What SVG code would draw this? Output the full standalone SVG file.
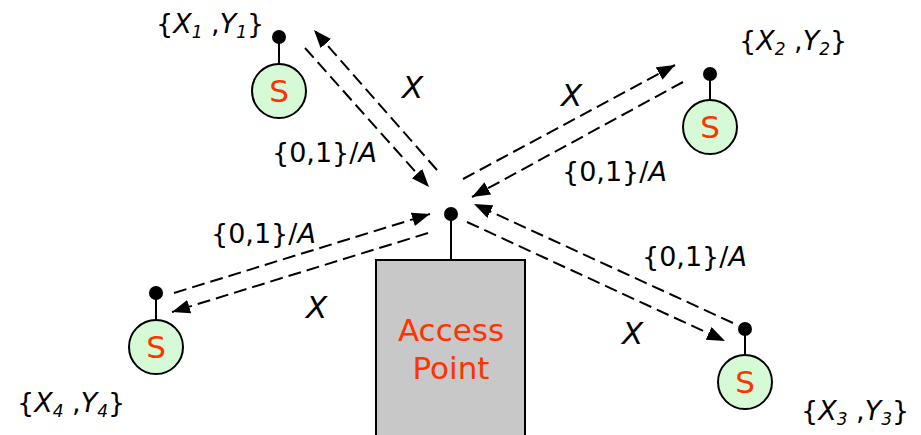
<svg xmlns="http://www.w3.org/2000/svg" width="921" height="435" viewBox="0 0 921 435">
  <style>
    .lnk { stroke: #000; stroke-width: 2; stroke-dasharray: 13 6; fill: none; marker-end: url(#tip); }
    .stem { stroke: #000; stroke-width: 2; }
    .dot { fill: #000; }
    .sta { fill: #d6fad6; stroke: #000; stroke-width: 2; }
    .s { font-family: "DejaVu Sans", Verdana, sans-serif; font-size: 31px; fill: #ff3300; text-anchor: middle; }
    .ap { font-family: "DejaVu Sans", Verdana, sans-serif; font-size: 31px; fill: #ff3300; text-anchor: middle; }
    .lbl { font-family: "DejaVu Sans", Verdana, sans-serif; font-size: 27px; fill: #000; }
    .it { font-style: italic; }
    .x { font-family: "DejaVu Sans", Verdana, sans-serif; font-size: 31px; font-style: italic; fill: #000; }
    .sub { font-size: 17px; font-style: italic; }
  </style>
  <defs>
    <marker id="tip" markerUnits="userSpaceOnUse" markerWidth="20" markerHeight="16" refX="18" refY="7" orient="auto">
      <path d="M0,0 L18,7 L0,14 z" fill="#000"/>
    </marker>
  </defs>

  <!-- access point -->
  <g id="ap">
    <line class="stem" x1="451" y1="214" x2="451" y2="260"/>
    <circle class="dot" cx="451" cy="214" r="7"/>
    <rect x="376" y="260" width="149" height="185" fill="#c8c8c8" stroke="#000" stroke-width="2"/>
    <text class="ap" x="451" y="341">Access</text>
    <text class="ap" x="451" y="379">Point</text>
  </g>

  <!-- stations -->
  <g id="s1">
    <line class="stem" x1="279" y1="37" x2="279" y2="64"/>
    <circle class="dot" cx="279" cy="37" r="7"/>
    <circle class="sta" cx="279" cy="91" r="27"/>
    <text class="s" x="279" y="102">S</text>
    <text class="lbl" x="156" y="33">{<tspan class="it">X</tspan><tspan class="sub" dy="5">1</tspan><tspan dy="-5"> ,</tspan><tspan class="it">Y</tspan><tspan class="sub" dy="5">1</tspan><tspan dy="-5">}</tspan></text>
  </g>
  <g id="s2">
    <line class="stem" x1="710" y1="74" x2="710" y2="100"/>
    <circle class="dot" cx="710" cy="74" r="7"/>
    <circle class="sta" cx="710" cy="127" r="27"/>
    <text class="s" x="710" y="138">S</text>
    <text class="lbl" x="739" y="50">{<tspan class="it">X</tspan><tspan class="sub" dy="5">2</tspan><tspan dy="-5"> ,</tspan><tspan class="it">Y</tspan><tspan class="sub" dy="5">2</tspan><tspan dy="-5">}</tspan></text>
  </g>
  <g id="s3">
    <line class="stem" x1="745" y1="329" x2="745" y2="355"/>
    <circle class="dot" cx="745" cy="329" r="7"/>
    <circle class="sta" cx="745" cy="382" r="27"/>
    <text class="s" x="745" y="393">S</text>
    <text class="lbl" x="801" y="420">{<tspan class="it">X</tspan><tspan class="sub" dy="5">3</tspan><tspan dy="-5"> ,</tspan><tspan class="it">Y</tspan><tspan class="sub" dy="5">3</tspan><tspan dy="-5">}</tspan></text>
  </g>
  <g id="s4">
    <line class="stem" x1="156" y1="293" x2="156" y2="320"/>
    <circle class="dot" cx="156" cy="293" r="7"/>
    <circle class="sta" cx="156" cy="347" r="27"/>
    <text class="s" x="156" y="358">S</text>
    <text class="lbl" x="17" y="412">{<tspan class="it">X</tspan><tspan class="sub" dy="5">4</tspan><tspan dy="-5"> ,</tspan><tspan class="it">Y</tspan><tspan class="sub" dy="5">4</tspan><tspan dy="-5">}</tspan></text>
  </g>

  <!-- links -->
  <g id="links">
    <line class="lnk" x1="305" y1="48" x2="429" y2="187"/>
    <line class="lnk" x1="437" y1="170" x2="314" y2="30"/>
    <line class="lnk" x1="463" y1="179" x2="675" y2="65"/>
    <line class="lnk" x1="683" y1="82" x2="472" y2="197"/>
    <line class="lnk" x1="733" y1="323" x2="474" y2="204"/>
    <line class="lnk" x1="467" y1="222" x2="725" y2="341"/>
    <line class="lnk" x1="174" y1="293" x2="430" y2="214"/>
    <line class="lnk" x1="428" y1="233" x2="172" y2="312"/>

    <text class="x" x="402" y="98">X</text>
    <text class="lbl" x="272" y="162">{0,1}/<tspan class="it">A</tspan></text>
    <text class="x" x="561" y="106">X</text>
    <text class="lbl" x="562" y="181">{0,1}/<tspan class="it">A</tspan></text>
    <text class="lbl" x="642" y="266">{0,1}/<tspan class="it">A</tspan></text>
    <text class="x" x="622" y="344">X</text>
    <text class="lbl" x="211" y="243">{0,1}/<tspan class="it">A</tspan></text>
    <text class="x" x="306" y="318">X</text>
  </g>
</svg>
